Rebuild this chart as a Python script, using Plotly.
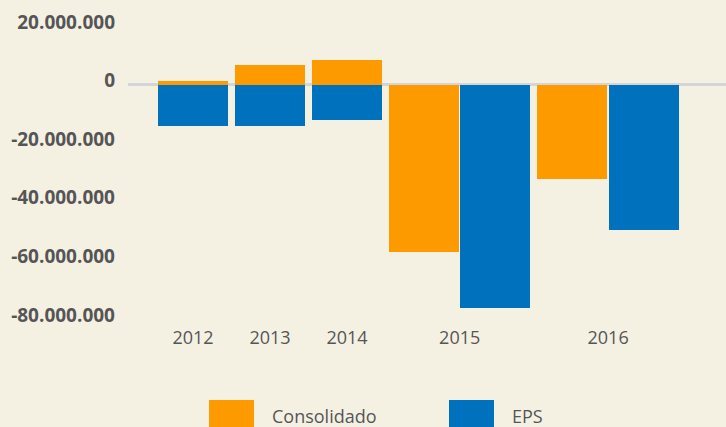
import plotly.graph_objects as go

# Annual results per year (units)
years = ["2012", "2013", "2014", "2015", "2016"]
consolidado = [1.2e6, 6.7e6, 8.4e6, -57.1e6, -32.3e6]
eps = [-14.1e6, -14.1e6, -12.1e6, -76.2e6, -49.7e6]
y_ticks = [20e6, 0, -20e6, -40e6, -60e6, -80e6]
series_names = ["Consolidado", "EPS"]

ORANGE = "#fd9a00"
BLUE = "#0071bc"
BG = "#f5f1e2"
TEXT = "#555558"
FONT = "Open Sans"

# Bar layout: a year whose two values have opposite signs shares one slot
# (one bar above zero, one below); otherwise the two bars sit side by side.
BAR_W = 1.0
PAIR_GAP = 0.02
GROUP_GAP = 0.1
pos = 0.0
c_x, e_x, centers = [], [], []
for c, e in zip(consolidado, eps):
    if (c >= 0) != (e >= 0):
        cx = ex = pos + BAR_W / 2
        span = BAR_W
    else:
        cx = pos + BAR_W / 2
        ex = pos + BAR_W * 1.5 + PAIR_GAP
        span = 2 * BAR_W + PAIR_GAP
    c_x.append(cx)
    e_x.append(ex)
    centers.append(pos + span / 2)
    pos += span + GROUP_GAP

fig = go.Figure()
fig.add_trace(go.Bar(x=c_x, y=consolidado, width=BAR_W, name=series_names[0],
                     marker=dict(color=ORANGE, line=dict(width=0)),
                     hoverinfo="skip", showlegend=False))
fig.add_trace(go.Bar(x=e_x, y=eps, width=BAR_W, name=series_names[1],
                     marker=dict(color=BLUE, line=dict(width=0)),
                     hoverinfo="skip", showlegend=False))

W, H = 726, 427
L, R, T, B = 128, 0, 10, 102
plot_w = W - L - R
plot_h = H - T - B
ZERO_PX = 84.5      # vertical pixel of the zero line
PX_PER_M = 2.93     # pixels per million


def px_x(p):
    return (p - L) / plot_w


def px_y(p):
    return (H - B - p) / plot_h


def tick_text(v):
    return f"{v:,.0f}".replace(",", ".")


# Custom legend: large swatches with labels below the plot
shapes, annotations = [], []
legend_items = [(series_names[0], ORANGE, 209, 270), (series_names[1], BLUE, 449, 510)]
for name, color, sx, tx in legend_items:
    shapes.append(dict(type="rect", xref="paper", yref="paper",
                       x0=px_x(sx), x1=px_x(sx + 45), y0=px_y(400), y1=px_y(440),
                       fillcolor=color, line=dict(width=0), layer="above"))
    annotations.append(dict(xref="paper", yref="paper", x=px_x(tx), y=px_y(416),
                            text=name, showarrow=False, xanchor="left", yanchor="middle",
                            font=dict(family=FONT, size=18, color=TEXT)))

y_top = (ZERO_PX - T) / PX_PER_M * 1e6
y_bottom = -(H - B - ZERO_PX) / PX_PER_M * 1e6

fig.update_layout(
    width=W, height=H,
    margin=dict(l=L, r=R, t=T, b=B),
    paper_bgcolor=BG, plot_bgcolor=BG,
    barmode="overlay",
    bargap=0,
    shapes=shapes,
    annotations=annotations,
    xaxis=dict(range=[-30 / 70, 568 / 70], showgrid=False, zeroline=False,
               showline=False, ticks="",
               tickvals=centers, ticktext=years,
               tickfont=dict(family=FONT, size=18, color=TEXT)),
    yaxis=dict(range=[y_bottom, y_top],
               showgrid=False, showline=False, ticks="",
               zeroline=True, zerolinecolor="#d5d5d8", zerolinewidth=3,
               tickvals=y_ticks, ticktext=[tick_text(v) for v in y_ticks],
               ticklabelshift=-4, ticklabelstandoff=12,
               tickfont=dict(family=FONT, size=19, color=TEXT, weight="bold")),
)

fig.write_html("out.html")
